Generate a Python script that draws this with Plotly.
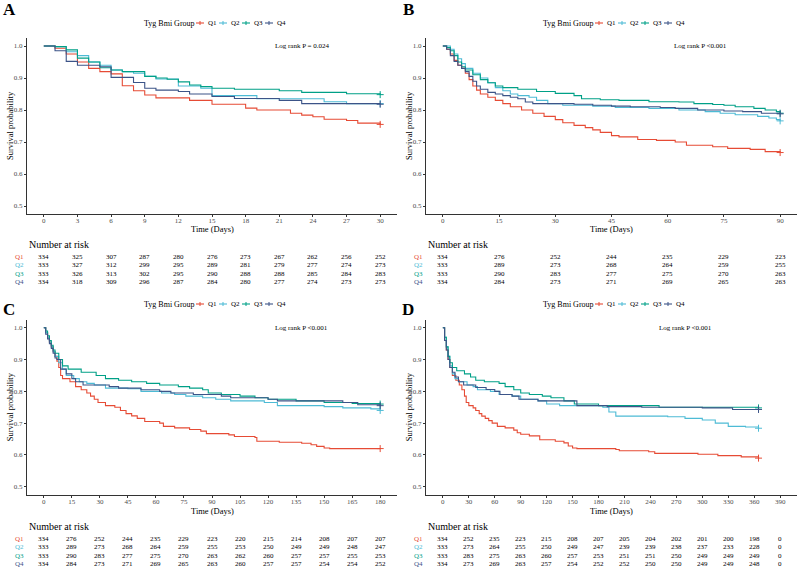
import plotly.graph_objects as go

W, H = 798, 569
FONT = "Liberation Serif"
GROUPS = ["Q1", "Q2", "Q3", "Q4"]
COLORS = ["#E64B35", "#4DBBD5", "#00A087", "#3C5488"]

# ---- A: 30-day survival (time in days, survival probability)
a_q1_t = [0, 1, 2, 3, 4, 5, 6, 7, 8, 9, 10, 13, 15, 18, 19, 22, 23, 24, 25, 27, 28, 30]
a_q1_s = [1.0, 0.993, 0.975, 0.95, 0.93, 0.92, 0.913, 0.876, 0.86, 0.847, 0.838, 0.83, 0.818,
          0.806, 0.80, 0.79, 0.784, 0.779, 0.771, 0.767, 0.759, 0.755]
a_q2_t = [0, 1, 2, 3, 4, 5, 6, 7, 8, 9, 10, 12, 14, 15, 19, 25, 27, 30]
a_q2_s = [1.0, 0.998, 0.982, 0.97, 0.95, 0.94, 0.925, 0.92, 0.915, 0.905, 0.897, 0.875, 0.868,
          0.845, 0.835, 0.826, 0.82, 0.82]
a_q3_t = [0, 1, 2, 3, 4, 5, 6, 7, 9, 10, 11, 12, 13, 14, 15, 17, 21, 23, 27, 30]
a_q3_s = [1.0, 0.998, 0.988, 0.962, 0.95, 0.932, 0.925, 0.92, 0.905, 0.9, 0.896, 0.888, 0.878,
          0.873, 0.868, 0.865, 0.86, 0.855, 0.851, 0.848]
a_q4_t = [0, 1, 2, 3, 5, 6, 8, 9, 10, 12, 13, 15, 17, 21, 23, 30]
a_q4_s = [1.0, 0.985, 0.952, 0.94, 0.935, 0.902, 0.886, 0.868, 0.862, 0.858, 0.85, 0.842, 0.836,
          0.83, 0.82, 0.818]

# ---- B: 90-day survival
b_q1_t = [0, 1, 2, 3, 4, 5, 6, 7, 8, 9, 10, 12, 14, 16, 18, 21, 24, 27, 30, 32, 35, 38, 40, 42,
          45, 47, 52, 57, 62, 65, 72, 76, 82, 86, 90]
b_q1_s = [1.0, 0.99, 0.975, 0.955, 0.94, 0.93, 0.915, 0.895, 0.875, 0.862, 0.85, 0.84, 0.83, 0.82,
          0.81, 0.80, 0.79, 0.78, 0.77, 0.76, 0.752, 0.745, 0.738, 0.73, 0.72, 0.716, 0.708, 0.705,
          0.70, 0.69, 0.685, 0.68, 0.677, 0.67, 0.667]
b_q2_t = [0, 2, 3, 4, 5, 6, 8, 10, 12, 14, 16, 18, 20, 23, 25, 28, 32, 40, 46, 55, 63, 70, 74, 78,
          84, 87, 89, 90]
b_q2_s = [1.0, 0.99, 0.975, 0.96, 0.945, 0.93, 0.915, 0.9, 0.885, 0.87, 0.86, 0.85, 0.845, 0.84,
          0.83, 0.82, 0.815, 0.812, 0.808, 0.805, 0.80, 0.795, 0.79, 0.785, 0.78, 0.775, 0.77, 0.766]
b_q3_t = [0, 1, 2, 3, 4, 5, 6, 8, 10, 12, 14, 16, 20, 25, 30, 35, 37, 42, 47, 55, 63, 67, 72, 75,
          78, 83, 86, 89, 90]
b_q3_s = [1.0, 0.995, 0.985, 0.97, 0.95, 0.935, 0.925, 0.91, 0.895, 0.885, 0.875, 0.87, 0.865,
          0.858, 0.852, 0.845, 0.835, 0.832, 0.83, 0.826, 0.825, 0.82, 0.817, 0.815, 0.81, 0.805,
          0.80, 0.795, 0.79]
b_q4_t = [0, 1, 2, 3, 4, 5, 6, 7, 8, 9, 10, 12, 14, 16, 18, 20, 22, 24, 35, 40, 45, 50, 58, 62,
          68, 75, 80, 85, 90]
b_q4_s = [1.0, 0.99, 0.97, 0.952, 0.94, 0.93, 0.92, 0.905, 0.89, 0.875, 0.865, 0.855, 0.85, 0.845,
          0.84, 0.835, 0.825, 0.82, 0.818, 0.815, 0.812, 0.81, 0.808, 0.805, 0.80, 0.797, 0.795,
          0.79, 0.788]

# ---- C: 180-day survival
c_q1_t = [0, 1, 2, 3, 4, 5, 6, 7, 8, 9, 10, 14, 17, 20, 23, 25, 27, 29, 33, 38, 41, 44, 47, 50,
          54, 62, 64, 70, 78, 84, 87, 99, 102, 113, 114, 126, 138, 143, 146, 150, 153, 180]
c_q1_s = [1.0, 0.985, 0.97, 0.955, 0.94, 0.925, 0.91, 0.895, 0.875, 0.85, 0.84, 0.83, 0.815,
          0.805, 0.795, 0.785, 0.775, 0.765, 0.755, 0.75, 0.74, 0.73, 0.723, 0.715, 0.705, 0.70,
          0.69, 0.685, 0.68, 0.675, 0.667, 0.663, 0.658, 0.655, 0.643, 0.64, 0.637, 0.632, 0.627,
          0.622, 0.62, 0.62]
c_q2_t = [0, 1, 2, 3, 4, 5, 6, 8, 10, 12, 16, 19, 23, 27, 33, 45, 52, 63, 70, 76, 85, 92, 100,
          118, 125, 150, 160, 175, 180]
c_q2_s = [1.0, 0.985, 0.97, 0.955, 0.94, 0.925, 0.91, 0.89, 0.87, 0.85, 0.84, 0.83, 0.825, 0.82,
          0.81, 0.808, 0.80, 0.795, 0.79, 0.785, 0.78, 0.775, 0.77, 0.765, 0.755, 0.752, 0.748,
          0.745, 0.74]
c_q3_t = [0, 1, 2, 3, 4, 5, 6, 8, 10, 13, 20, 28, 33, 40, 47, 55, 62, 72, 78, 85, 88, 95, 105,
          113, 120, 135, 150, 165, 180]
c_q3_s = [1.0, 0.99, 0.975, 0.96, 0.945, 0.93, 0.92, 0.9, 0.88, 0.87, 0.86, 0.85, 0.84, 0.835,
          0.83, 0.825, 0.82, 0.815, 0.81, 0.805, 0.795, 0.79, 0.785, 0.78, 0.775, 0.77, 0.765,
          0.762, 0.76]
c_q4_t = [0, 1, 2, 3, 4, 5, 6, 7, 9, 12, 15, 17, 21, 35, 40, 52, 62, 68, 80, 95, 100, 120, 125,
          160, 168, 180]
c_q4_s = [1.0, 0.98, 0.965, 0.95, 0.935, 0.92, 0.905, 0.9, 0.87, 0.855, 0.84, 0.83, 0.82, 0.815,
          0.81, 0.805, 0.80, 0.795, 0.79, 0.785, 0.78, 0.775, 0.77, 0.765, 0.758, 0.755]

# ---- D: 365-day survival
d_q1_t = [0, 2, 4, 6, 8, 11, 15, 19, 22, 25, 27, 30, 35, 38, 42, 45, 49, 53, 57, 63, 72, 82, 86,
          90, 100, 112, 130, 140, 145, 150, 155, 200, 204, 238, 245, 295, 318, 345, 365]
d_q1_s = [1.0, 0.96, 0.93, 0.9, 0.875, 0.85, 0.835, 0.82, 0.805, 0.785, 0.765, 0.755, 0.748, 0.74,
          0.73, 0.722, 0.715, 0.708, 0.70, 0.69, 0.685, 0.678, 0.67, 0.665, 0.66, 0.648, 0.643,
          0.638, 0.628, 0.622, 0.62, 0.617, 0.613, 0.61, 0.605, 0.602, 0.598, 0.594, 0.59]
d_q2_t = [0, 2, 4, 6, 8, 11, 14, 18, 28, 35, 40, 55, 65, 80, 90, 110, 120, 135, 185, 192, 200,
          260, 280, 300, 315, 330, 350, 365]
d_q2_s = [1.0, 0.97, 0.94, 0.91, 0.88, 0.855, 0.84, 0.83, 0.82, 0.815, 0.805, 0.80, 0.79, 0.785,
          0.775, 0.77, 0.76, 0.755, 0.75, 0.735, 0.722, 0.72, 0.715, 0.71, 0.70, 0.69, 0.688, 0.684]
d_q3_t = [0, 2, 4, 6, 8, 11, 16, 25, 32, 38, 48, 65, 72, 82, 90, 100, 115, 125, 140, 152, 180,
          250, 365]
d_q3_s = [1.0, 0.97, 0.94, 0.91, 0.89, 0.875, 0.865, 0.855, 0.845, 0.835, 0.83, 0.825, 0.815,
          0.805, 0.795, 0.79, 0.785, 0.78, 0.77, 0.76, 0.755, 0.75, 0.748]
d_q4_t = [0, 2, 4, 6, 8, 11, 14, 18, 24, 38, 50, 60, 66, 80, 88, 110, 155, 190, 230, 300, 335, 365]
d_q4_s = [1.0, 0.96, 0.93, 0.9, 0.875, 0.86, 0.845, 0.83, 0.82, 0.812, 0.806, 0.80, 0.79, 0.785,
          0.775, 0.77, 0.755, 0.752, 0.75, 0.748, 0.743, 0.743]

# ---- Number at risk tables (also the x tick labels)
a_times = [0, 3, 6, 9, 12, 15, 18, 21, 24, 27, 30]
a_risk_q1 = [334, 325, 307, 287, 280, 276, 273, 267, 262, 256, 252]
a_risk_q2 = [333, 327, 312, 299, 295, 289, 281, 279, 277, 274, 273]
a_risk_q3 = [333, 326, 313, 302, 295, 290, 288, 288, 285, 284, 283]
a_risk_q4 = [334, 318, 309, 296, 287, 284, 280, 277, 274, 273, 273]

b_times = [0, 15, 30, 45, 60, 75, 90]
b_risk_q1 = [334, 276, 252, 244, 235, 229, 223]
b_risk_q2 = [333, 289, 273, 268, 264, 259, 255]
b_risk_q3 = [333, 290, 283, 277, 275, 270, 263]
b_risk_q4 = [334, 284, 273, 271, 269, 265, 263]

c_times = [0, 15, 30, 45, 60, 75, 90, 105, 120, 135, 150, 165, 180]
c_risk_q1 = [334, 276, 252, 244, 235, 229, 223, 220, 215, 214, 208, 207, 207]
c_risk_q2 = [333, 289, 273, 268, 264, 259, 255, 253, 250, 249, 249, 248, 247]
c_risk_q3 = [333, 290, 283, 277, 275, 270, 263, 262, 260, 257, 257, 255, 253]
c_risk_q4 = [334, 284, 273, 271, 269, 265, 263, 260, 257, 257, 254, 254, 252]

d_times = [0, 30, 60, 90, 120, 150, 180, 210, 240, 270, 300, 330, 360, 390]
d_risk_q1 = [334, 252, 235, 223, 215, 208, 207, 205, 204, 202, 201, 200, 198, 0]
d_risk_q2 = [333, 273, 264, 255, 250, 249, 247, 239, 239, 238, 237, 233, 228, 0]
d_risk_q3 = [333, 283, 275, 263, 260, 257, 253, 251, 251, 250, 249, 249, 249, 0]
d_risk_q4 = [334, 273, 269, 263, 257, 254, 252, 252, 250, 250, 249, 249, 248, 0]

p_labels = ["Log rank P = 0.024", "Log rank P <0.001", "Log rank P <0.001", "Log rank P <0.001"]


def px(x):
    return x / W


def py(y):
    return 1 - y / H


def label(text, x, y, size, color="black", xanchor="center", xref="paper", yref="paper", **kw):
    return dict(text=text, x=x, y=y, xref=xref, yref=yref, xanchor=xanchor, yanchor="middle",
                showarrow=False, font=dict(family=FONT, size=size, color=color), **kw)


# layout geometry (pixels)
COLS = [(27, 397), (426, 797)]
ROWS = [dict(top=38, bot=214, letter=10, legend=23, xtitle=229, nar=244, rows=[257, 265.3, 273.6, 282]),
        dict(top=319.8, bot=494.7, letter=309, legend=304, xtitle=511, nar=526, rows=[539, 547.3, 555.6, 564])]

panels = [
    dict(tag="A", col=0, row=0, p_frac=0.68, times=a_times,
         curves=[(a_q1_t, a_q1_s), (a_q2_t, a_q2_s), (a_q3_t, a_q3_s), (a_q4_t, a_q4_s)],
         risk=[a_risk_q1, a_risk_q2, a_risk_q3, a_risk_q4]),
    dict(tag="B", col=1, row=0, p_frac=0.68, times=b_times,
         curves=[(b_q1_t, b_q1_s), (b_q2_t, b_q2_s), (b_q3_t, b_q3_s), (b_q4_t, b_q4_s)],
         risk=[b_risk_q1, b_risk_q2, b_risk_q3, b_risk_q4]),
    dict(tag="C", col=0, row=1, p_frac=0.68, times=c_times,
         curves=[(c_q1_t, c_q1_s), (c_q2_t, c_q2_s), (c_q3_t, c_q3_s), (c_q4_t, c_q4_s)],
         risk=[c_risk_q1, c_risk_q2, c_risk_q3, c_risk_q4]),
    dict(tag="D", col=1, row=1, p_frac=0.636, times=d_times,
         curves=[(d_q1_t, d_q1_s), (d_q2_t, d_q2_s), (d_q3_t, d_q3_s), (d_q4_t, d_q4_s)],
         risk=[d_risk_q1, d_risk_q2, d_risk_q3, d_risk_q4]),
]

fig = go.Figure()
annotations = []
shapes = []
axis_style = dict(showline=True, linecolor="#333333", linewidth=1, ticks="outside", ticklen=2,
                  tickwidth=1, tickcolor="#333333", showgrid=False, zeroline=False,
                  tickfont=dict(family=FONT, size=7, color="#4D4D4D"), automargin=False)

for i, p in enumerate(panels):
    n = "" if i == 0 else str(i + 1)
    xa, ya = "x" + n, "y" + n
    x0, x1 = COLS[p["col"]]
    r = ROWS[p["row"]]
    tmax = p["times"][-1]
    pad = 0.05 * tmax

    for g, (t, s) in enumerate(p["curves"]):
        fig.add_trace(go.Scatter(x=t, y=s, mode="lines", line=dict(color=COLORS[g], width=1.1, shape="hv"),
                                 xaxis=xa, yaxis=ya, showlegend=False, hoverinfo="skip"))
        fig.add_trace(go.Scatter(x=t[-1:], y=s[-1:], mode="markers",
                                 marker=dict(symbol="cross-thin", size=5, line=dict(width=1, color=COLORS[g])),
                                 xaxis=xa, yaxis=ya, showlegend=False, hoverinfo="skip"))

    fig.layout["xaxis" + n] = dict(axis_style, domain=[px(x0), px(x1)], range=[-pad, tmax + pad],
                                   tickvals=p["times"], anchor=ya, ticklabelstandoff=-2)
    fig.layout["yaxis" + n] = dict(axis_style, domain=[py(r["bot"]), py(r["top"])], range=[0.475, 1.025],
                                   tickvals=[0.5, 0.6, 0.7, 0.8, 0.9, 1.0], tickformat=".1f", anchor=xa)

    # panel letter, axis titles, p value
    annotations.append(label("<b>%s</b>" % p["tag"], px(x0 - 18), py(r["letter"]), 17))
    annotations.append(label("Time (Days)", px((x0 + x1) / 2), py(r["xtitle"]), 8.5))
    annotations.append(label("Survival probability", px(x0 - 17), py((r["top"] + r["bot"]) / 2), 8.5,
                             textangle=-90))
    annotations.append(label(p_labels[i], p["p_frac"] * tmax, 1.0, 7, xanchor="left", xref=xa, yref=ya))

    # legend
    lx = x0 + 115
    ly = py(r["legend"])
    annotations.append(label("Tyg Bmi Group", px(lx), ly, 8, xanchor="left"))
    for g, name in enumerate(GROUPS):
        cx = lx + 58 + g * 23
        shapes.append(dict(type="line", xref="paper", yref="paper", x0=px(cx - 4), x1=px(cx + 4),
                           y0=ly, y1=ly, line=dict(color=COLORS[g], width=1.1)))
        shapes.append(dict(type="line", xref="paper", yref="paper", x0=px(cx), x1=px(cx),
                           y0=ly - 2 / H, y1=ly + 2 / H, line=dict(color=COLORS[g], width=1)))
        annotations.append(label(name, px(cx + 6), ly, 7, xanchor="left"))

    # number at risk table
    annotations.append(label("Number at risk", px(x0), py(r["nar"]), 10, xanchor="left"))
    for g, name in enumerate(GROUPS):
        yy = py(r["rows"][g])
        annotations.append(label(name, px(x0 - 8), yy, 7, color=COLORS[g]))
        for t, v in zip(p["times"], p["risk"][g]):
            annotations.append(label(str(v), t, yy, 7, xref=xa))

fig.update_layout(width=W, height=H, margin=dict(l=0, r=0, t=0, b=0), plot_bgcolor="white",
                  paper_bgcolor="white", annotations=annotations, shapes=shapes,
                  font=dict(family=FONT))
# drop the page's default 8px body margin so the figure sits at the window corner
fig.write_html("out.html", config={"displayModeBar": False},
               post_script="document.body.style.margin='0';")
